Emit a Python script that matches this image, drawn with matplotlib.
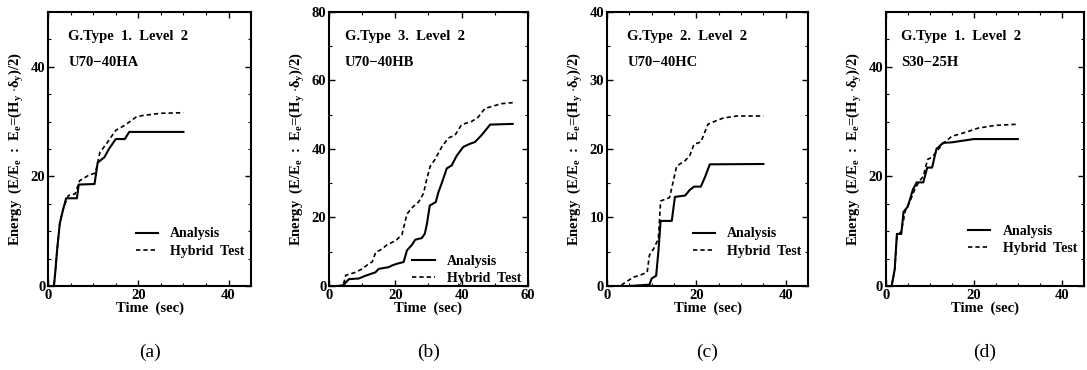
import numpy as np
import matplotlib.pyplot as plt
from matplotlib.ticker import MultipleLocator

plt.rcParams['font.family'] = ['Liberation Serif', 'DejaVu Serif']
plt.rcParams['font.weight'] = 'bold'
plt.rcParams['mathtext.fontset'] = 'custom'
plt.rcParams['mathtext.rm'] = 'Liberation Serif:bold'
plt.rcParams['mathtext.it'] = 'Liberation Serif:bold'
plt.rcParams['mathtext.bf'] = 'Liberation Serif:bold'

# (a) U70-40HA
a_t_ana = [0, 1.3, 1.6, 2.0, 2.6, 3.3, 4.0, 6.4, 6.8, 10.3, 11.0, 12.5, 13.5, 15.0, 17.0, 18.0, 30.0]
a_e_ana = [0, 0, 2.5, 6.5, 11.4, 13.8, 16.0, 16.0, 18.5, 18.6, 22.5, 23.5, 25.0, 26.8, 26.8, 28.1, 28.1]
a_t_hyb = [0, 1.3, 1.6, 2.0, 2.6, 3.3, 4.5, 6.0, 7.0, 9.0, 10.5, 11.5, 13.0, 15.0, 17.0, 19.5, 21.0, 25.0, 30.0]
a_e_hyb = [0, 0, 2.5, 6.5, 11.4, 14.0, 16.5, 16.8, 19.2, 20.2, 20.6, 24.4, 26.0, 28.4, 29.3, 30.8, 31.1, 31.5, 31.6]

# (b) U70-40HB
b_t_ana = [0, 3.0, 4.5, 5.0, 6.0, 9.0, 11.0, 14.0, 15.0, 18.0, 19.0, 20.5, 22.5, 23.5, 25.0, 26.0,
           28.0, 28.9, 29.5, 30.4, 32.2, 33.0, 34.0, 35.5, 37.0, 38.5, 40.5, 42.5, 44.0, 46.0, 48.6, 55.4]
b_e_ana = [0, 0, 0.3, 1.0, 2.0, 2.2, 3.0, 4.0, 5.0, 5.5, 6.0, 6.5, 7.0, 10.4, 12.0, 13.5,
           14.0, 15.3, 18.0, 23.5, 24.5, 27.4, 30.0, 34.3, 35.2, 38.0, 40.6, 41.5, 42.0, 44.0, 47.1, 47.3]
b_t_hyb = [0, 3.0, 4.5, 5.0, 8.0, 10.0, 12.0, 13.0, 14.1, 15.5, 17.5, 20.2, 22.0, 23.5, 25.2, 27.0,
           28.5, 29.4, 30.5, 32.0, 34.0, 36.0, 38.0, 40.0, 43.0, 45.0, 47.0, 49.5, 52.0, 55.4]
b_e_hyb = [0, 0, 1.0, 3.1, 4.0, 5.0, 6.5, 7.0, 9.9, 10.5, 12.0, 13.3, 15.0, 21.0, 23.0, 24.5,
           27.0, 30.9, 34.9, 37.0, 40.6, 43.2, 44.0, 47.1, 48.0, 49.3, 51.8, 52.5, 53.2, 53.5]

# (c) U70-40HC
c_t_ana = [0, 5.0, 9.5, 10.0, 11.0, 11.5, 12.0, 14.5, 15.2, 17.5, 18.5, 19.5, 21.0, 22.0, 23.0, 35.0]
c_e_ana = [0, 0, 0.2, 1.1, 1.5, 5.0, 9.5, 9.5, 13.0, 13.2, 14.0, 14.5, 14.5, 16.0, 17.75, 17.8]
c_t_hyb = [0, 3.0, 4.0, 6.0, 7.5, 9.0, 9.5, 10.5, 11.5, 12.0, 14.0, 15.6, 17.5, 18.5, 19.5, 21.0,
           22.6, 24.0, 26.0, 29.0, 35.0]
c_e_hyb = [0, 0, 0.5, 1.3, 1.6, 2.0, 4.5, 5.5, 6.9, 12.4, 12.9, 17.5, 18.3, 19.0, 20.7, 21.0,
           23.6, 24.0, 24.5, 24.8, 24.8]

# (d) S30-25H
d_t_ana = [0, 1.3, 2.0, 2.5, 3.5, 4.0, 5.0, 6.1, 7.0, 8.5, 9.4, 10.5, 11.5, 13.0, 15.0, 20.0, 30.0]
d_e_ana = [0, 0, 3.0, 9.5, 9.5, 13.5, 14.5, 17.5, 18.9, 18.9, 21.6, 21.6, 25.0, 26.1, 26.2, 26.8, 26.8]
d_t_hyb = [0, 1.3, 2.0, 2.5, 3.5, 4.5, 5.5, 6.5, 7.5, 8.5, 9.5, 10.5, 11.5, 13.0, 15.0, 18.0, 21.0, 25.0, 30.0]
d_e_hyb = [0, 0, 3.0, 9.0, 10.0, 14.0, 15.5, 17.5, 19.0, 20.0, 23.1, 23.5, 24.5, 26.0, 27.3, 28.0, 28.8, 29.3, 29.5]

titles = ['G.Type  1.  Level  2', 'G.Type  3.  Level  2', 'G.Type  2.  Level  2', 'G.Type  1.  Level  2']
names = ['U70\u221240HA', 'U70\u221240HB', 'U70\u221240HC', 'S30\u221225H']
tags = ['(a)', '(b)', '(c)', '(d)']

panels = [
    (a_t_ana, a_e_ana, a_t_hyb, a_e_hyb),
    (b_t_ana, b_e_ana, b_t_hyb, b_e_hyb),
    (c_t_ana, c_e_ana, c_t_hyb, c_e_hyb),
    (d_t_ana, d_e_ana, d_t_hyb, d_e_hyb),
]

# axes layout: left, width, xmax, ymax, ymajor, yminor, xminor, legend y
layout = [
    (0.0442, 0.1868, 45, 50, 20, 5, 5, 0.058),
    (0.3027, 0.1830, 60, 80, 20, 10, 10, -0.043),
    (0.5584, 0.1850, 45, 40, 10, 5, 5, 0.058),
    (0.8150, 0.1820, 45, 50, 20, 5, 5, 0.068),
]
text_x = [0.10, 0.08, 0.10, 0.076]

ylab = r'Energy  (E/E$_e$  :  E$_e$=(H$_y$ $\cdot\delta_y$)/2)'

fig = plt.figure(figsize=(10.87, 3.70), dpi=100)

for i, (t1, e1, t2, e2) in enumerate(panels):
    left, width, xmax, ymax, ymaj, ymin, xmin, ly = layout[i]
    ax = fig.add_axes([left, 0.227, width, 0.741])
    ax.plot(t1, e1, color='black', lw=1.5, label='Analysis')
    ax.plot(t2, e2, color='black', lw=1.2, dashes=(2.6, 1.8), label='Hybrid  Test')
    ax.set_xlim(0, xmax)
    ax.set_ylim(0, ymax)
    ax.xaxis.set_major_locator(MultipleLocator(20))
    ax.xaxis.set_minor_locator(MultipleLocator(xmin))
    ax.yaxis.set_major_locator(MultipleLocator(ymaj))
    ax.yaxis.set_minor_locator(MultipleLocator(ymin))
    ax.tick_params(which='both', direction='in', top=True, right=True,
                   labelsize=10.5, pad=2)
    ax.tick_params(which='major', length=4, width=1.0)
    ax.tick_params(which='minor', length=2.5, width=0.8)
    for lbl in ax.get_xticklabels() + ax.get_yticklabels():
        lbl.set_fontweight('bold')
    for s in ax.spines.values():
        s.set_linewidth(1.5)

    ax.set_xlabel('Time  (sec)', fontsize=10.5, fontweight='bold', labelpad=0)
    ax.set_ylabel(ylab, fontsize=10.5, fontweight='bold', labelpad=3)

    ax.text(text_x[i], 0.91, titles[i], transform=ax.transAxes,
            fontsize=10.5, fontweight='bold', va='center')
    ax.text(text_x[i], 0.815, names[i], transform=ax.transAxes,
            fontsize=10.5, fontweight='bold', va='center')

    ax.legend(loc='lower right', bbox_to_anchor=(1.03, ly), frameon=False,
              handlelength=1.6, handletextpad=0.9, labelspacing=0.3,
              prop={'size': 10, 'weight': 'bold'})

    fig.text(left + width / 2, 0.049, tags[i], ha='center', va='center',
             fontsize=14, fontweight='normal')

fig.savefig('out.png', dpi=100)
